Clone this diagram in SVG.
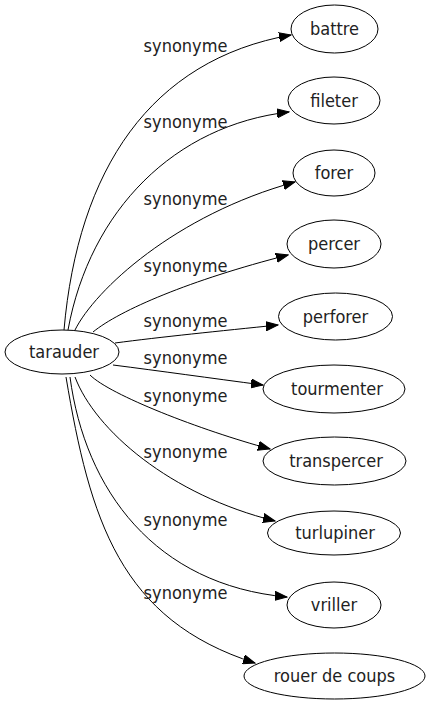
<svg xmlns="http://www.w3.org/2000/svg" width="430" height="707" viewBox="0 0 430 707">
<defs>
<style>
.n ellipse{fill:#fff;stroke:#000;stroke-width:1}
text{font-family:"DejaVu Sans Condensed","DejaVu Sans",sans-serif;font-size:18px;fill:#222;text-anchor:middle}
.e path{fill:none;stroke:#000;stroke-width:1;marker-end:url(#arr)}
</style>
<marker id="arr" markerWidth="13" markerHeight="10" refX="12" refY="5" orient="auto" markerUnits="userSpaceOnUse"><path d="M0,0.5 L12,5 L0,9.5 z" fill="#000" stroke="#000" stroke-width="1"/></marker>
</defs>
<rect width="430" height="707" fill="#fff"/>
<g id="edges" class="e">
<path d="M64,330 C78,170 150,60 291,35"/>
<path d="M68,330 C90,210 175,125 289,112"/>
<path d="M75,330 C95,290 175,215 295,182"/>
<path d="M93,332 C120,310 190,280 288,255"/>
<path d="M115,343 C160,337 220,331 278,325"/>
<path d="M113,365 C160,371 210,378 263,385"/>
<path d="M90,375 C110,395 200,430 270,449"/>
<path d="M75,377 C95,430 170,495 275,521"/>
<path d="M70,377 C85,490 155,585 287,597"/>
<path d="M66,377 C90,520 120,620 255,663"/>
</g>
<g id="edge-labels">
<text x="185.5" y="52">synonyme</text>
<text x="185.5" y="128">synonyme</text>
<text x="185.5" y="205">synonyme</text>
<text x="185.5" y="272">synonyme</text>
<text x="185.5" y="327">synonyme</text>
<text x="185.5" y="364">synonyme</text>
<text x="185.5" y="402">synonyme</text>
<text x="185.5" y="458">synonyme</text>
<text x="185.5" y="526">synonyme</text>
<text x="185.5" y="599">synonyme</text>
</g>
<g id="tarauder" class="n"><ellipse cx="62" cy="352" rx="57" ry="22"/><text x="64" y="358">tarauder</text></g>
<g id="battre" class="n"><ellipse cx="334.5" cy="29" rx="43.5" ry="24"/><text x="334.5" y="35">battre</text></g>
<g id="fileter" class="n"><ellipse cx="334" cy="100.5" rx="46" ry="23.5"/><text x="334" y="106.5">fileter</text></g>
<g id="forer" class="n"><ellipse cx="334" cy="173" rx="41" ry="23"/><text x="334" y="179">forer</text></g>
<g id="percer" class="n"><ellipse cx="334" cy="244" rx="47" ry="24"/><text x="334" y="250">percer</text></g>
<g id="perforer" class="n"><ellipse cx="335.5" cy="316.5" rx="57" ry="23.5"/><text x="335.5" y="322.5">perforer</text></g>
<g id="tourmenter" class="n"><ellipse cx="334" cy="389" rx="71" ry="24"/><text x="337" y="395">tourmenter</text></g>
<g id="transpercer" class="n"><ellipse cx="334.5" cy="461" rx="71.5" ry="24"/><text x="336" y="467">transpercer</text></g>
<g id="turlupiner" class="n"><ellipse cx="334" cy="533" rx="66.5" ry="22"/><text x="335" y="539">turlupiner</text></g>
<g id="vriller" class="n"><ellipse cx="334" cy="605" rx="47" ry="23"/><text x="334" y="611">vriller</text></g>
<g id="rouer-de-coups" class="n"><ellipse cx="334.5" cy="676" rx="90.5" ry="23"/><text x="334.5" y="682">rouer de coups</text></g>
</svg>
